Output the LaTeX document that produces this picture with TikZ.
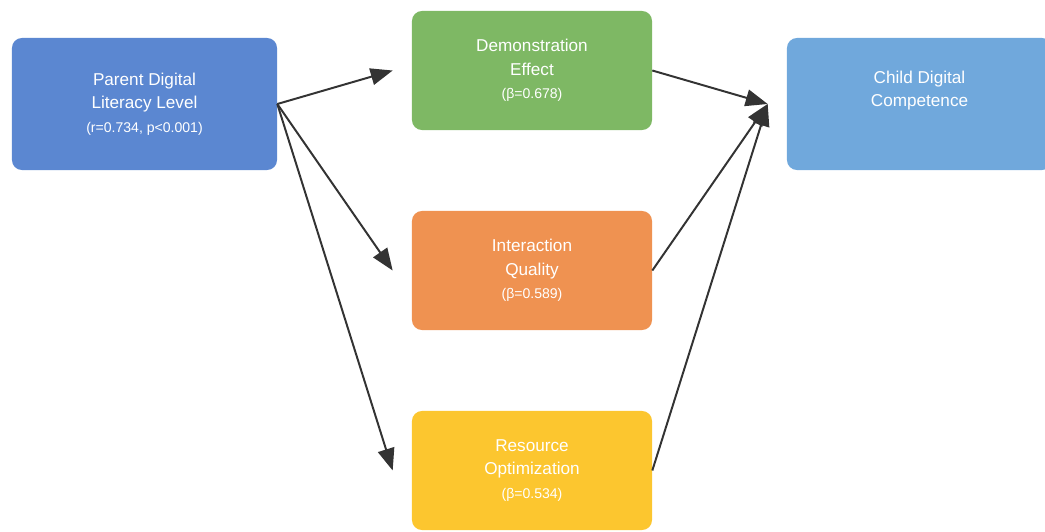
\documentclass[tikz,border=0pt]{standalone}
\usepackage{fontspec}
\setmainfont{Liberation Sans}
\usetikzlibrary{arrows.meta}

\definecolor{parentblue}{HTML}{5B87D1}
\definecolor{childblue}{HTML}{70A8DC}
\definecolor{demogreen}{HTML}{7EB864}
\definecolor{interorange}{HTML}{EF9251}
\definecolor{resyellow}{HTML}{FCC62F}
\definecolor{arrowgray}{HTML}{333333}

\tikzset{
  box/.style={rounded corners=0.25cm, text=white, align=center,
    font=\fontsize{12.2}{16.7}\selectfont, inner sep=0pt},
  bigbox/.style={box, minimum width=6.625cm, minimum height=3.3cm},
  midbox/.style={box, minimum width=6cm, minimum height=2.975cm},
  link/.style={-{Triangle[length=5.5mm,width=4.2mm]}, line width=1.4pt,
    draw=arrowgray, fill=arrowgray}
}
\newcommand{\coef}[1]{{\fontsize{10}{16.7}\selectfont #1}}

\begin{document}
\begin{tikzpicture}[x=0.025cm, y=-0.025cm]
  \useasboundingbox (0,0) rectangle (1045,532);

  % Origen
  \node[bigbox, fill=parentblue] (parent) at (144.5,104)
    {Parent Digital\\Literacy Level\\\coef{(r=0.734, p<0.001)}};

  % Mediadores
  \node[midbox, fill=demogreen] (demo) at (532,70.5)
    {Demonstration\\Effect\\\coef{(β=0.678)}};
  \node[midbox, fill=interorange] (inter) at (532,270.5)
    {Interaction\\Quality\\\coef{(β=0.589)}};
  \node[midbox, fill=resyellow] (res) at (532,470.5)
    {Resource\\Optimization\\\coef{(β=0.534)}};

  % Resultado
  \node[bigbox, fill=childblue] (child) at (919.5,104)
    {Child Digital\\Competence\\\coef{\strut}};

  % Puntas
  \coordinate (demoin) at ([xshift=-0.475cm]demo.west);
  \coordinate (interin) at ([xshift=-0.475cm]inter.west);
  \coordinate (resin) at ([xshift=-0.475cm]res.west);
  \coordinate (childin) at ([xshift=-0.475cm]child.west);

  % Flechas
  \draw[link] (parent.east) -- (demoin);
  \draw[link] (parent.east) -- (interin);
  \draw[link] (parent.east) -- (resin);
  \draw[link] (demo.east) -- (childin);
  \draw[link] (inter.east) -- (childin);
  \draw[link] (res.east) -- (childin);
\end{tikzpicture}
\end{document}
